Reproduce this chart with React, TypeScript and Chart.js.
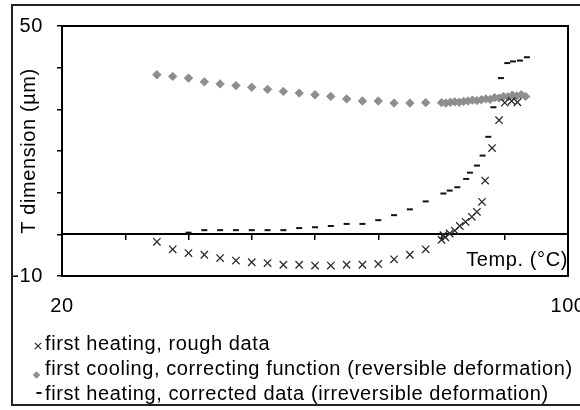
import React, { useEffect, useRef } from 'react';
import { Chart, registerables } from 'chart.js';
import { drawPoint } from 'chart.js/helpers';

Chart.register(...registerables);

// ---- data ----
const seriesLabels = [
  'first heating, rough data',
  'first cooling, correcting function (reversible deformation)',
  'first heating, corrected data (irreversible deformation)',
];

const roughTemp = [35, 37.5, 40, 42.5, 45, 47.5, 50, 52.5, 55, 57.5, 60, 62.5, 65, 67.5, 70, 72.5, 75, 77.5,
  80.0, 80.3, 80.6, 81.3, 82.1, 82.9, 83.8, 84.8, 85.6, 86.4, 86.9, 88.0, 89.1, 90.0, 91.1, 92.0];
const roughDim = [-1.8, -3.6, -4.5, -4.9, -5.7, -6.3, -6.7, -6.9, -7.3, -7.3, -7.5, -7.5, -7.3, -7.3, -7.1, -6.0, -4.9, -3.6,
  -1.3, -0.2, -0.7, 0.2, 0.9, 2.0, 3.0, 4.2, 5.4, 7.8, 12.9, 20.7, 27.4, 31.6, 32.0, 31.7];

const coolTemp = [35, 37.5, 40, 42.5, 45, 47.5, 50, 52.5, 55, 57.5, 60, 62.5, 65, 67.5, 70, 72.5, 75, 77.5,
  80.0, 80.7, 81.4, 82.1, 82.8, 83.5, 84.2, 84.9, 85.6, 86.3, 87.0, 87.7, 88.4, 89.1, 89.8, 90.5, 91.2, 91.9, 92.6, 93.3];
const coolDim = [38.3, 37.9, 37.5, 36.6, 36.1, 35.7, 35.3, 34.8, 34.3, 33.9, 33.5, 33.1, 32.5, 32.0, 32.0, 31.5, 31.5, 31.6,
  31.6, 31.5, 31.7, 31.8, 31.7, 31.9, 32.0, 32.2, 32.1, 32.3, 32.5, 32.4, 32.8, 32.7, 33.1, 33.0, 33.4, 33.2, 33.5, 33.1];

const corrTemp = [40, 42.5, 45, 47.5, 50, 52.5, 55, 57.5, 60, 62.5, 65, 67.5, 70, 72.5, 75, 77.5,
  80.3, 81.3, 82.5, 83.9, 84.5, 85.6, 86.5, 87.4, 88.2, 89.4, 90.4, 91.3, 92.4, 93.5];
const corrDim = [0.4, 1.0, 1.0, 1.0, 1.0, 1.0, 1.0, 1.5, 1.7, 2.0, 2.5, 2.5, 3.4, 4.6, 6.0, 7.9,
  9.8, 10.5, 11.3, 13.3, 14.8, 16.5, 18.9, 23.4, 30.5, 37.5, 41.1, 41.5, 41.7, 42.5];

const xRange = [20, 100];
const yRange = [-10, 50];
const xTickLabels = [20, 100];
const yTickLabels = [50, -10];
const yTitle = 'T dimension (µm)';
const xTitle = 'Temp. (°C)';

const FONT = "'Liberation Sans', Arial, Helvetica, sans-serif";
const LETTER_SPACING = '0.6px';

const toPoints = (xs: number[], ys: number[]) => xs.map((x, i) => ({ x, y: ys[i] }));

export default function App() {
  const ref = useRef<HTMLCanvasElement>(null);

  useEffect(() => {
    if (!ref.current) return;
    Chart.defaults.font.family = FONT;
    Chart.defaults.font.size = 20;
    Chart.defaults.color = '#000';

    const legendMarks = [
      { dx: 38, dy: 2, radius: 4.5, borderWidth: 1.2 },
      { dx: 36.5, dy: 6, radius: 3.2, borderWidth: 1 },
      { dx: 39, dy: -1, radius: 2.6, borderWidth: 2 },
    ];

    const spacingPlugin = {
      id: 'spacing',
      beforeUpdate(chart: any) { chart.ctx.letterSpacing = LETTER_SPACING; },
      beforeLayout(chart: any) { chart.ctx.letterSpacing = LETTER_SPACING; },
      beforeDraw(chart: any) { chart.ctx.letterSpacing = LETTER_SPACING; },
    };

    const framePlugin = {
      id: 'frames',
      afterDraw(chart: any) {
        const { ctx, chartArea } = chart;
        ctx.save();
        ctx.strokeStyle = '#000';
        ctx.lineWidth = 2;
        ctx.strokeRect(chartArea.left, chartArea.top, chartArea.right - chartArea.left, chartArea.bottom - chartArea.top);
        // outer frame
        ctx.strokeStyle = '#222';
        ctx.beginPath();
        ctx.moveTo(600, 5);
        ctx.lineTo(12, 5);
        ctx.lineTo(12, 405);
        ctx.lineTo(600, 405);
        ctx.stroke();

        // legend
        ctx.font = `20px ${FONT}`;
        ctx.letterSpacing = LETTER_SPACING;
        ctx.textBaseline = 'middle';
        ctx.textAlign = 'left';
        chart.data.datasets.forEach((ds: any, i: number) => {
          const y = 344 + i * 25;
          const m = legendMarks[i];
          ctx.save();
          ctx.strokeStyle = ds.borderColor;
          ctx.fillStyle = ds.backgroundColor;
          ctx.lineWidth = m.borderWidth;
          drawPoint(ctx, { pointStyle: ds.pointStyle, radius: m.radius, borderWidth: m.borderWidth, rotation: 0 } as any, m.dx, y + m.dy);
          ctx.restore();
          ctx.fillStyle = '#000';
          ctx.fillText(ds.label, 45, y);
        });
        ctx.restore();
      },
    };

    const chart = new Chart(ref.current, {
      type: 'scatter',
      data: {
        datasets: [
          {
            label: seriesLabels[0],
            data: toPoints(roughTemp, roughDim),
            pointStyle: 'crossRot',
            pointRadius: 5.2,
            borderColor: '#2a2a2a',
            backgroundColor: '#2a2a2a',
            pointBorderWidth: 1.3,
            borderWidth: 1.3,
            order: 0,
            xAxisID: 'x',
            yAxisID: 'y',
          },
          {
            label: seriesLabels[1],
            data: toPoints(coolTemp, coolDim),
            pointStyle: 'rectRot',
            pointRadius: 4.2,
            borderColor: '#8e8e8e',
            backgroundColor: '#8e8e8e',
            pointBorderWidth: 1,
            borderWidth: 1,
            order: 2,
            xAxisID: 'x',
            yAxisID: 'y',
          },
          {
            label: seriesLabels[2],
            data: toPoints(corrTemp, corrDim),
            pointStyle: 'line',
            pointRadius: 3,
            borderColor: '#111',
            backgroundColor: '#111',
            pointBorderWidth: 2,
            borderWidth: 2,
            order: 1,
            xAxisID: 'x',
            yAxisID: 'y',
          },
        ],
      },
      options: {
        responsive: false,
        animation: false,
        events: [],
        layout: { padding: { left: 12, right: 12, top: 24, bottom: 92 } },
        plugins: { legend: { display: false }, tooltip: { enabled: false } },
        scales: {
          x: {
            type: 'linear',
            axis: 'x',
            position: { y: 0 } as any,
            min: xRange[0],
            max: xRange[1],
            ticks: { display: false, stepSize: 10 },
            grid: { display: true, drawOnChartArea: false, drawTicks: true, tickLength: 5, color: '#000', lineWidth: 1.5 },
            border: { display: true, color: '#000', width: 2 },
            title: { display: true, text: xTitle, align: 'end', color: '#000', font: { size: 20 }, padding: { top: 9, bottom: 0 } },
          },
          xLab: {
            type: 'linear',
            axis: 'x',
            position: 'bottom',
            min: xRange[0],
            max: xRange[1],
            ticks: {
              stepSize: xRange[1] - xRange[0],
              padding: 18,
              color: '#000',
              font: { size: 20 },
              callback: (v: any) => (xTickLabels.includes(Number(v)) ? String(v) : ''),
            },
            grid: { display: false, drawTicks: false },
            border: { display: false },
            afterFit: (s: any) => { s.height = 42; s.paddingLeft = 0; s.paddingRight = 0; },
          },
          y: {
            type: 'linear',
            position: 'left',
            min: yRange[0],
            max: yRange[1],
            ticks: {
              stepSize: 10,
              padding: 14,
              color: '#000',
              font: { size: 20 },
              autoSkip: false,
              callback: (v: any) => (yTickLabels.includes(Number(v)) ? String(v) : ''),
            },
            grid: { display: true, drawOnChartArea: false, drawTicks: true, tickLength: 5, color: '#000', lineWidth: 1.5 },
            border: { display: true, color: '#000', width: 2 },
            title: { display: true, text: yTitle, color: '#000', font: { size: 20 }, padding: { top: 5, bottom: 0 } },
            afterFit: (s: any) => { s.width = 50; },
          },
        },
      },
      plugins: [spacingPlugin, framePlugin],
    } as any);

    return () => chart.destroy();
  }, []);

  return (
    <div style={{ position: 'fixed', left: 0, top: 0, width: 580, height: 410, background: '#fff' }}>
      <canvas ref={ref} width={580} height={410} style={{ display: 'block', width: 580, height: 410 }} />
    </div>
  );
}
